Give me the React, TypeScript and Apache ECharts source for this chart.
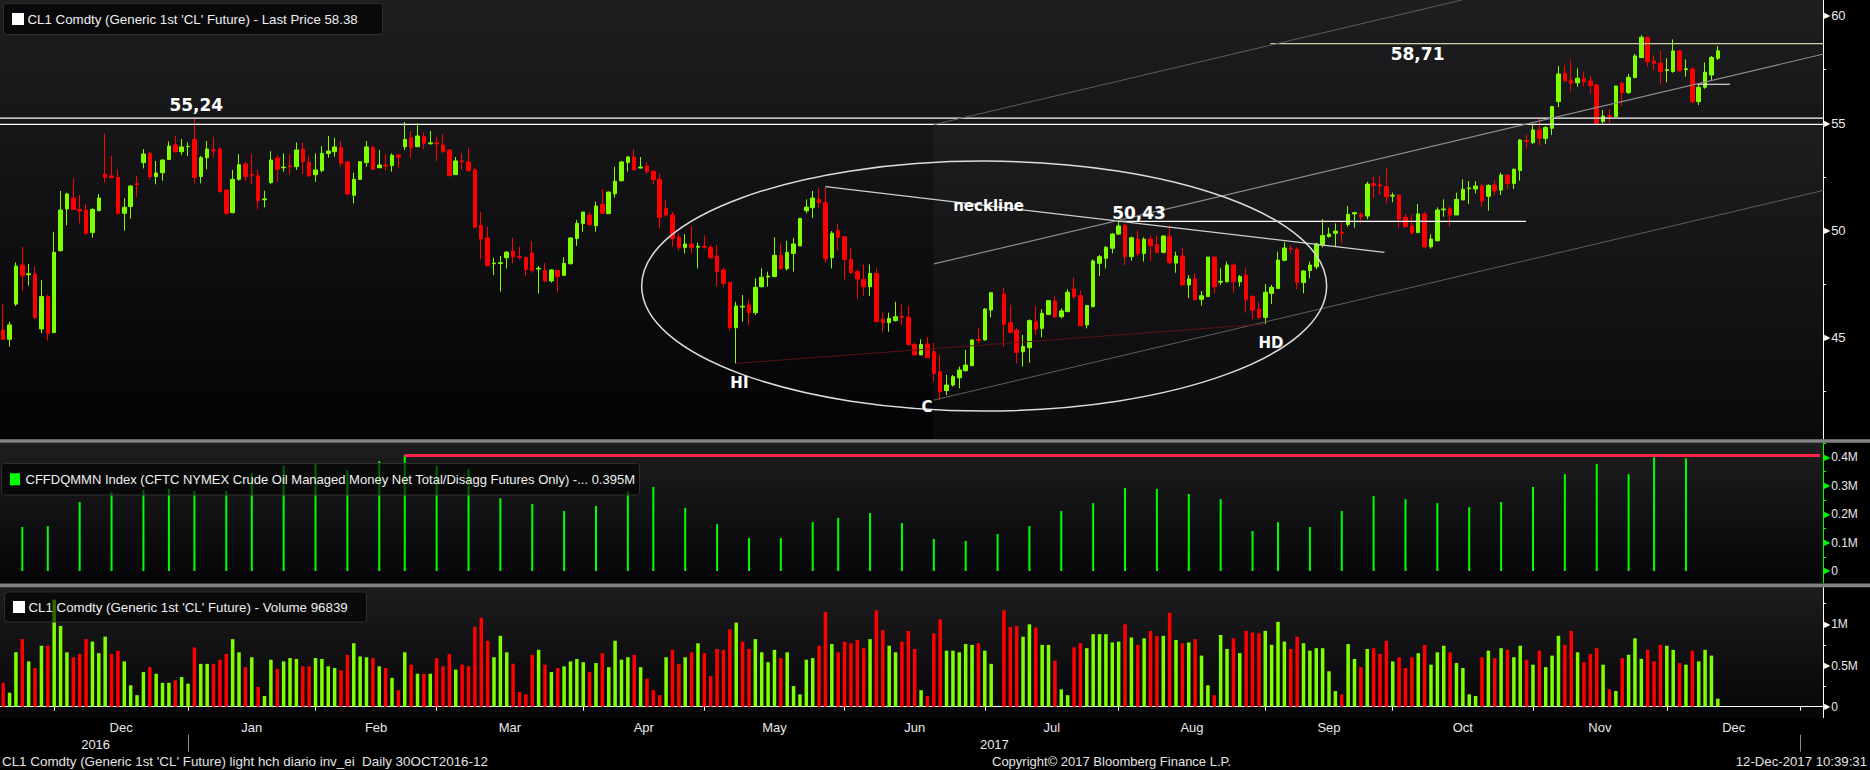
import React, { useEffect, useRef } from 'react';
import * as echarts from 'echarts';

const FONT = '"Liberation Sans", Arial, sans-serif';
const BOLD_FONT = '"DejaVu Sans", "Liberation Sans", sans-serif';
const UP = '#80ff00';
const DOWN = '#ff0000';
const CFTC_GREEN = '#00ff00';
const LABEL_COLOR = '#e8e8e8';

// calendar of chart slots (trading days; Jul 4 kept as an empty slot; future slots are weekdays)
const FIRST_DAY = '2016-11-17';
const LAST_SLOT_DAY = '2018-01-03';
const HOLIDAYS = ['2016-11-24', '2016-12-26', '2017-01-02', '2017-01-16', '2017-02-20', '2017-04-14', '2017-05-29', '2017-09-04', '2017-11-23'];
const MONTHS = ['Jan', 'Feb', 'Mar', 'Apr', 'May', 'Jun', 'Jul', 'Aug', 'Sep', 'Oct', 'Nov', 'Dec'];

// CL1 daily candles [open, close, low, high]
const OHLC = [
  [45.37,44.94,44.94,46.61],[44.94,45.61,44.60,45.76],[46.58,48.35,46.49,48.52],[48.40,47.90,47.20,49.24],[47.95,47.99,47.44,48.45],[47.98,45.95,45.88,48.32],[45.42,46.93,45.22,47.70],[46.93,45.22,44.88,47.00],[45.25,48.99,45.25,49.95],[49.07,50.96,49.02,51.85],
  [51.01,51.71,50.25,51.77],[51.52,50.99,50.96,52.44],[50.99,50.92,50.34,51.66],[50.96,49.88,49.80,51.24],[49.91,50.99,49.67,51.04],[50.93,51.52,50.93,51.71],[52.64,52.48,52.24,54.53],[52.55,52.47,52.44,53.48],[52.48,50.81,50.73,52.83],[50.81,51.09,50.00,51.51],
  [51.12,52.08,50.56,52.13],[52.19,52.15,51.58,52.55],[53.17,53.57,52.90,53.80],[53.60,52.52,52.39,53.68],[52.52,52.69,52.16,53.25],[52.70,53.29,52.33,53.32],[53.32,53.94,53.29,54.15],[53.99,53.68,53.63,54.41],[53.68,53.90,53.52,54.27],[53.91,53.93,53.48,54.11],
  [54.25,52.48,52.20,55.24],[52.52,53.40,52.20,53.48],[53.40,53.80,52.86,54.18],[53.76,53.72,53.42,54.36],[53.80,51.82,51.77,53.91],[51.89,50.81,50.73,51.93],[50.84,52.39,50.81,52.83],[52.39,53.07,52.33,53.57],[53.11,52.52,52.31,53.20],[52.62,52.58,52.17,53.57],
  [52.55,51.40,50.99,52.83],[51.44,51.48,51.09,51.86],[52.24,53.29,52.17,53.70],[53.39,52.86,52.28,53.52],[52.93,52.96,52.75,53.60],[53.02,52.98,52.61,53.57],[52.98,53.76,52.83,54.11],[53.80,53.21,52.64,54.11],[53.18,52.55,52.52,53.45],[52.61,52.83,52.28,53.60],
  [52.80,53.60,52.72,53.94],[53.60,53.71,53.40,54.41],[53.68,53.90,53.45,54.33],[53.87,53.14,52.98,54.18],[53.20,51.71,51.66,53.26],[51.65,52.39,51.27,52.70],[52.39,53.21,52.36,53.23],[53.17,53.90,52.98,54.18],[53.87,52.86,52.83,53.96],[52.93,53.06,52.93,53.76],
  [53.05,53.01,52.80,53.57],[53.03,53.51,52.75,53.60],[53.52,53.42,52.93,53.57],[53.91,54.25,53.76,55.06],[54.33,53.87,53.40,54.64],[53.91,54.41,53.91,55.00],[54.38,54.07,53.80,54.57],[54.05,54.09,54.01,54.64],[54.09,54.05,53.25,54.38],[53.99,53.68,53.63,54.50],
  [53.76,52.56,52.56,53.76],[52.61,53.25,52.61,53.43],[53.25,53.21,52.83,53.60],[53.20,52.80,52.75,53.84],[52.83,50.16,50.11,52.95],[50.25,49.61,48.66,50.87],[49.66,48.37,48.37,50.16],[48.46,48.49,47.93,48.74],[48.47,48.51,47.16,48.82],[48.74,49.00,48.24,49.05],
  [49.05,48.79,48.48,49.66],[48.79,48.76,48.66,49.24],[48.74,48.20,47.89,48.80],[48.96,48.14,48.04,49.52],[48.21,48.25,47.08,48.35],[48.15,47.66,47.62,48.49],[47.66,48.17,47.58,48.20],[48.15,47.86,47.11,48.17],[47.92,48.48,47.89,48.76],[48.46,49.66,48.43,49.69],
  [49.64,50.34,49.29,50.50],[50.33,50.87,49.95,50.87],[50.73,50.29,50.19,50.87],[50.23,51.15,49.95,51.35],[51.23,50.81,50.78,51.93],[50.79,51.80,50.79,51.82],[51.72,52.30,51.54,52.98],[52.33,53.20,52.28,53.25],[53.17,53.43,52.75,53.48],[53.43,52.83,52.80,53.80],
  [52.92,52.96,52.90,53.43],[53.01,52.75,52.64,53.20],[52.76,52.38,52.16,52.83],[52.39,50.61,50.11,52.67],[51.04,50.73,50.65,51.43],[50.73,49.63,49.25,50.87],[49.69,49.22,49.07,49.88],[49.22,49.38,48.94,49.84],[49.38,49.22,48.94,50.22],[49.23,49.27,48.24,49.44],
  [49.27,49.23,49.16,49.78],[49.21,48.74,48.66,49.33],[48.82,48.09,47.39,49.33],[48.17,47.55,47.36,48.28],[47.59,45.48,45.34,47.62],[45.48,46.49,43.82,46.69],[46.44,46.48,45.76,47.00],[46.54,46.18,45.61,46.80],[46.18,47.36,46.07,47.78],[47.39,47.83,47.36,48.24],
  [47.84,47.88,47.39,48.09],[47.86,48.85,47.83,49.69],[48.85,48.23,48.20,49.41],[48.23,48.99,48.14,49.53],[48.94,49.38,48.09,49.66],[49.29,50.57,49.29,50.57],[50.93,51.10,50.81,51.46],[51.07,51.52,50.59,51.85],[51.46,51.30,51.07,51.96],[51.30,48.70,48.51,52.03],
  [48.74,49.88,48.24,49.98],[50.00,49.69,49.07,50.31],[49.72,48.66,47.73,49.75],[48.66,48.04,47.98,49.21],[48.09,47.75,46.80,48.20],[47.73,47.39,46.96,48.43],[47.39,48.01,46.96,48.43],[48.01,45.76,45.73,48.24],[45.87,45.71,45.25,46.18],[45.71,45.91,45.29,46.18],
  [45.81,45.99,45.76,46.69],[46.01,45.97,45.61,46.58],[45.96,44.70,44.60,46.49],[44.70,44.21,44.21,44.78],[44.21,44.70,44.21,44.94],[44.72,44.08,44.08,45.06],[44.36,43.35,42.97,44.75],[43.43,42.50,42.11,44.21],[42.55,42.81,42.34,43.28],[42.81,43.20,42.73,43.28],
  [43.15,43.51,42.66,43.67],[43.48,43.74,43.43,44.44],[43.71,44.91,43.71,44.94],[44.93,44.89,44.75,45.45],[44.91,46.35,44.88,46.38],[46.30,47.11,45.96,47.14],null,[47.05,45.64,44.60,47.33],[45.71,45.26,45.22,46.54],[45.37,44.33,43.82,45.45],
  [44.36,44.60,43.67,45.14],[44.55,45.81,43.85,45.87],[45.75,45.42,45.14,46.49],[45.45,46.15,45.03,46.34],[46.10,46.74,46.07,46.77],[46.72,45.99,45.92,46.96],[45.99,46.26,45.92,46.38],[46.23,47.13,46.20,47.27],[47.28,46.93,46.82,47.81],[46.97,45.57,45.56,47.20],
  [45.61,46.51,45.45,46.54],[46.46,48.59,46.43,48.66],[48.48,48.79,47.89,48.87],[48.71,49.22,48.24,49.29],[49.18,49.84,48.94,49.88],[49.84,50.22,49.80,50.47],[50.25,48.79,48.40,50.31],[48.79,49.67,48.60,49.72],[49.61,48.94,48.82,50.00],[48.94,49.60,48.56,49.69],
  [49.61,49.30,48.59,49.77],[49.35,48.99,48.94,49.78],[48.99,49.75,48.94,49.78],[49.72,48.51,48.45,50.23],[48.49,48.82,48.04,49.02],[48.82,47.47,47.47,49.19],[47.47,47.75,46.86,47.93],[47.75,46.80,46.72,48.01],[46.80,46.97,46.51,47.19],[46.93,48.77,46.93,48.77],
  [48.77,47.39,47.08,48.77],[47.60,47.64,47.47,48.25],[47.62,48.40,47.59,48.56],[48.40,47.62,47.11,48.48],[47.62,47.86,47.39,47.93],[47.93,46.80,46.18,48.25],[46.93,46.30,45.87,47.00],[46.35,45.96,45.87,46.69],[45.96,47.13,45.65,47.52],[47.08,47.36,46.58,47.47],
  [47.31,48.63,47.30,49.02],[48.62,49.19,48.57,49.46],[49.18,49.14,48.94,49.33],[49.13,47.58,47.27,49.24],[47.58,48.12,47.08,48.17],[48.14,48.40,47.78,48.56],[48.32,49.38,48.20,49.44],[49.33,49.77,49.22,50.53],[49.72,49.84,49.69,50.14],[49.88,49.98,49.25,50.34],
  [49.92,49.88,49.41,50.40],[50.29,50.76,50.19,51.15],[50.78,50.84,50.14,50.88],[50.76,50.65,50.34,50.85],[50.68,52.17,50.53,52.28],[52.19,52.11,51.51,52.52],[52.13,52.08,51.66,52.52],[52.05,51.58,51.27,52.90],[51.61,51.65,51.32,51.77],[51.66,50.54,50.14,51.66],
  [50.62,50.19,50.14,50.78],[50.22,49.91,49.80,50.73],[49.91,50.78,49.91,51.24],[50.78,49.25,49.18,50.87],[49.25,49.61,49.16,49.83],[49.53,50.96,49.49,51.09],[50.97,51.01,50.65,51.46],[51.02,50.73,50.19,51.15],[50.73,51.46,50.73,51.77],[51.43,51.93,51.43,52.39],
  [51.95,51.99,51.24,52.31],[51.94,52.08,51.74,52.31],[52.08,51.38,51.12,52.20],[51.60,52.11,50.93,52.16],[52.13,51.86,51.66,52.36],[51.89,52.59,51.66,52.70],[52.59,52.20,51.94,52.59],[52.20,52.86,51.94,52.90],[52.80,54.22,52.33,54.27],[54.20,54.16,53.83,54.49],
  [54.10,54.69,54.04,54.92],[54.69,54.30,53.96,55.23],[54.30,54.80,54.04,54.88],[54.77,55.78,54.46,55.81],[56.01,57.30,55.75,57.67],[57.33,56.99,56.91,57.72],[57.02,56.86,56.48,57.98],[56.89,57.10,56.71,57.56],[57.07,56.94,56.74,57.41],[56.97,56.75,56.37,57.20],
  [56.79,55.00,54.89,56.83],[55.08,55.34,55.00,55.62],[55.36,55.32,55.00,55.65],[55.31,56.74,55.28,56.74],[56.86,56.43,55.81,56.94],[56.43,57.14,56.37,57.30],[57.14,58.14,57.10,58.23],[58.07,59.01,58.03,59.11],[59.01,57.87,57.64,59.04],[57.90,57.80,57.48,58.18],
  [57.80,57.41,56.82,58.39],[57.46,57.50,56.91,58.03],[57.41,58.37,57.36,58.91],[58.37,57.45,57.41,58.42],[57.50,57.54,57.17,57.98],[57.53,56.01,55.93,57.61],[56.01,56.68,55.85,56.83],[56.68,57.38,56.61,57.84],[57.25,58.07,56.97,58.14],[58.03,58.38,57.95,58.60],
];

// CL1 daily volume, millions of contracts
const VOLUME_M = [
  0.29,0.17,0.66,0.82,0.55,0.47,0.74,0.74,1.30,0.98,
  0.66,0.60,0.64,0.82,0.79,0.65,0.85,0.64,0.68,0.55,
  0.26,0.14,0.42,0.48,0.40,0.29,0.29,0.32,0.36,0.28,
  0.72,0.52,0.52,0.52,0.57,0.64,0.82,0.66,0.48,0.60,
  0.24,0.13,0.57,0.46,0.55,0.59,0.58,0.49,0.49,0.59,
  0.58,0.49,0.47,0.44,0.63,0.77,0.61,0.60,0.59,0.49,
  0.47,0.35,0.20,0.66,0.51,0.40,0.40,0.40,0.59,0.49,
  0.64,0.45,0.51,0.49,0.97,1.08,0.80,0.60,0.86,0.66,
  0.52,0.18,0.15,0.63,0.69,0.51,0.42,0.47,0.49,0.55,
  0.58,0.54,0.42,0.53,0.65,0.48,0.80,0.57,0.60,0.63,
  0.48,0.34,0.20,0.14,0.60,0.69,0.52,0.60,0.66,0.77,
  0.65,0.37,0.70,0.69,0.94,1.02,0.79,0.70,0.82,0.66,
  0.54,0.69,0.59,0.66,0.25,0.15,0.57,0.59,0.74,1.15,
  0.76,0.66,0.79,0.77,0.81,0.71,0.82,1.17,0.93,0.74,
  0.66,0.79,0.92,0.70,0.20,0.13,0.89,1.06,0.68,0.68,
  0.66,0.76,0.75,0.77,0.68,0.52,null,1.17,0.97,0.98,
  0.85,1.00,0.96,0.75,0.75,0.56,0.21,0.14,0.72,0.77,
  0.71,0.88,0.88,0.88,0.78,0.79,1.00,0.84,0.75,0.83,
  0.92,0.86,0.86,1.14,0.81,0.77,0.78,0.82,0.62,0.26,
  0.14,0.87,0.70,0.83,0.65,0.92,0.90,0.89,0.92,0.75,
  1.03,0.79,0.70,0.85,0.77,0.68,0.71,0.71,0.43,0.19,
  0.15,0.76,0.58,0.48,0.70,0.71,0.64,0.80,0.55,0.60,
  0.47,0.60,0.65,0.75,0.51,0.66,0.74,0.66,0.53,0.47,
  0.15,0.13,0.60,0.68,0.59,0.71,0.69,0.60,0.74,0.57,
  0.51,0.68,0.48,0.62,0.86,0.75,0.92,0.66,0.54,0.64,
  0.71,0.51,0.21,0.19,0.59,0.63,0.83,0.58,0.69,0.55,
  0.75,0.74,0.69,0.53,0.51,0.68,0.55,0.69,0.62,0.097,
];

// CFTC managed money net (weekly, Tuesdays from 2016-11-22), millions
const CFTC_FIRST_REPORT = '2016-11-22';
const CFTC_M = [
  0.155,0.158,0.243,0.277,0.285,0.289,0.282,0.282,0.344,0.370,
  0.377,0.355,0.387,0.408,0.370,0.358,0.256,0.236,0.211,0.229,
  0.279,0.296,0.222,0.165,0.116,0.116,0.172,0.187,0.204,0.169,
  0.113,0.106,0.130,0.158,0.211,0.239,0.292,0.289,0.271,0.253,
  0.141,0.172,0.155,0.211,0.264,0.253,0.239,0.225,0.243,0.296,
  0.341,0.377,0.341,0.400,0.397,
];
const CFTC_RECORD = 0.407;
const CFTC_RECORD_FROM = 63;

// axes
const PRICE_MIN = 40.295, PRICE_MAX = 60.745;
const PRICE_LABELS = [45, 50, 55, 60];
const PRICE_TICKS = [42.5, 45, 47.5, 50, 52.5, 55, 57.5, 60];
const CFTC_MIN = -0.0423, CFTC_MAX = 0.4507;
const CFTC_LABELS = [0, 0.1, 0.2, 0.3, 0.4];
const CFTC_TICKS = [0, 0.05, 0.1, 0.15, 0.2, 0.25, 0.3, 0.35, 0.4, 0.45];
const VOL_MIN = -0.1334, VOL_MAX = 1.4466;
const VOL_LABELS = [0, 0.5, 1];
const VOL_TICKS = [0, 0.25, 0.5, 0.75, 1, 1.25];

// annotations in (slot index, price)
const LEVELS = [
  { price: 55.24, from: -0.5, to: 285.5, color: '#ffffff' },
  { price: 54.95, from: -0.5, to: 285.5, color: '#ffffff' },
  { price: 50.43, from: 175, to: 238.9, color: '#ffffff' },
  { price: 58.71, from: 198.8, to: 285.5, color: '#cfcf9f' },
  { price: 56.82, from: 265.8, to: 270.9, color: '#ffffff' },
];
const TREND_LINES = [
  { a: [129.0, 52.05], b: [216.7, 48.99], color: '#d0d0d0', width: 1.3 },
  { a: [146.0, 54.94], b: [228.8, 60.74], color: '#5e5e5e', width: 1 },
  { a: [146.0, 48.45], b: [285.6, 58.23], color: '#8c8c8c', width: 1.2 },
  { a: [146.0, 42.11], b: [285.6, 51.88], color: '#5e5e5e', width: 1 },
  { a: [115.1, 43.82], b: [197.9, 45.65], color: '#5a1414', width: 1 },
];
const NOTES = [
  { text: '55,24', at: [30.3, 55.85], size: 17 },
  { text: '58,71', at: [221.9, 58.24], size: 17 },
  { text: '50,43', at: [178.2, 50.81], size: 17 },
  { text: 'neckline', at: [154.6, 51.16], size: 15 },
  { text: 'HI', at: [115.5, 42.92], size: 15 },
  { text: 'C', at: [144.95, 41.8], size: 15 },
  { text: 'HD', at: [198.9, 44.75], size: 15 },
];
const ELLIPSE = { center: [153.9, 47.42], rx: 53.73, ry: 5.82 };
const CHANNEL_SHADE_FROM = 145.9;

function tradingDays(from: string, to: string): string[] {
  const out: string[] = [];
  const d = new Date(from + 'T00:00:00Z');
  const end = new Date(to + 'T00:00:00Z');
  while (d <= end) {
    const wd = d.getUTCDay();
    const s = d.toISOString().slice(0, 10);
    if (wd !== 0 && wd !== 6 && HOLIDAYS.indexOf(s) < 0) out.push(s);
    d.setUTCDate(d.getUTCDate() + 1);
  }
  return out;
}

const dates = tradingDays(FIRST_DAY, LAST_SLOT_DAY);
const N = dates.length;
const ym = (s: string) => s.slice(0, 7);
const monthEnds: number[] = [];
for (let i = 0; i < N - 1; i++) if (ym(dates[i]) !== ym(dates[i + 1])) monthEnds.push(i);
const monthEndSet = new Set(monthEnds);
const monthLabels = new Map<number, { text: string; half: boolean }>();
for (let k = 1; k < monthEnds.length; k++) {
  const a = monthEnds[k - 1], b = monthEnds[k];
  const mid = (a + b) / 2;
  monthLabels.set(Math.floor(mid), { text: MONTHS[+dates[b].slice(5, 7) - 1], half: mid % 1 !== 0 });
}
const yearEnds = monthEnds.filter((i) => dates[i].slice(5, 7) === '12');
const yearEndSet = new Set(yearEnds);
const yearLabels = new Map<number, { text: string; half: boolean }>();
{
  let prev = 0;
  yearEnds.forEach((e) => {
    const mid = (prev + e) / 2;
    yearLabels.set(Math.floor(mid), { text: dates[e].slice(0, 4), half: mid % 1 !== 0 });
    prev = e;
  });
}

function halfLabel(map: Map<number, { text: string; half: boolean }>) {
  return (_v: string, i: number) => {
    const m = map.get(i);
    if (!m) return '';
    return m.half ? `{h|${m.text}}` : `{n|${m.text}}`;
  };
}
const labelRich = {
  n: { fontFamily: FONT, fontSize: 13, color: LABEL_COLOR },
  h: { fontFamily: FONT, fontSize: 13, color: LABEL_COLOR, padding: [0, 0, 0, 6.38] },
};

function rightAxis(grid: number, min: number, max: number, labels: number[], ticks: number[], fmt: (v: number) => string, lineColor: string, fontSize: number) {
  return {
    type: 'value', gridIndex: grid, position: 'right', min, max,
    axisLine: { show: true, lineStyle: { color: lineColor, width: 1 } },
    axisTick: { show: true, customValues: ticks, length: 3, lineStyle: { color: lineColor } },
    axisLabel: {
      show: true, customValues: labels, margin: 1,
      formatter: (v: number) => `{t|▶}{v|${fmt(v)}}`,
      rich: {
        t: { fontFamily: '"DejaVu Sans"', fontSize: 8, color: lineColor, padding: [0, 1, 0, 0] },
        v: { fontFamily: FONT, fontSize, color: LABEL_COLOR },
      },
    },
    splitLine: { show: false },
  };
}

function buildOption() {
  const candleData = dates.map((_, i) => (OHLC[i] ? OHLC[i] : '-'));
  let prevClose: number | null = null;
  const volData = dates.map((_, i) => {
    const v = VOLUME_M[i];
    const c = OHLC[i];
    if (v == null || !c) return '-';
    const up = prevClose == null ? c[1] >= c[0] : c[1] >= prevClose;
    prevClose = c[1];
    return { value: v, itemStyle: { color: up ? UP : DOWN } };
  });
  const cftcData: any[] = dates.map(() => '-');
  CFTC_M.forEach((v, k) => {
    const d = new Date(CFTC_FIRST_REPORT + 'T00:00:00Z');
    d.setUTCDate(d.getUTCDate() + 7 * k);
    const idx = dates.indexOf(d.toISOString().slice(0, 10));
    if (idx >= 0) cftcData[idx] = v;
  });

  const hiddenX = (g: number) => ({ type: 'category', gridIndex: g, data: dates, show: false });

  return {
    animation: false,
    backgroundColor: '#000000',
    grid: [
      { left: -3.5, right: 47, top: 0, height: 439 },
      { left: -3.5, right: 47, top: 443, height: 140 },
      { left: -3.5, right: 47, top: 587.5, height: 130.2 },
    ],
    xAxis: [
      hiddenX(0),
      hiddenX(1),
      {
        type: 'category', gridIndex: 2, data: dates,
        axisLine: { show: true, lineStyle: { color: '#ffffff', width: 1 } },
        axisTick: { show: true, alignWithLabel: true, length: 4, interval: (i: number) => monthEndSet.has(i), lineStyle: { color: '#ffffff' } },
        axisLabel: { show: true, interval: (i: number) => monthLabels.has(i), formatter: halfLabel(monthLabels), rich: labelRich, margin: 3 },
        splitLine: { show: false },
      },
      {
        type: 'category', gridIndex: 2, data: dates, position: 'bottom', offset: 17,
        axisLine: { show: false },
        axisTick: { show: true, alignWithLabel: true, length: 17, interval: (i: number) => yearEndSet.has(i), lineStyle: { color: '#8c8c8c' } },
        axisLabel: { show: true, interval: (i: number) => yearLabels.has(i), formatter: halfLabel(yearLabels), rich: labelRich, margin: 3 },
        splitLine: { show: false },
      },
    ],
    yAxis: [
      rightAxis(0, PRICE_MIN, PRICE_MAX, PRICE_LABELS, PRICE_TICKS, (v) => String(v), '#ffffff', 13),
      rightAxis(1, CFTC_MIN, CFTC_MAX, CFTC_LABELS, CFTC_TICKS, (v) => (v === 0 ? '0' : `${v.toFixed(1)}M`), CFTC_GREEN, 12),
      rightAxis(2, VOL_MIN, VOL_MAX, VOL_LABELS, VOL_TICKS, (v) => (v === 0 ? '0' : v === 1 ? '1M' : `${v}M`), '#ffffff', 12),
    ],
    series: [
      {
        type: 'candlestick', xAxisIndex: 0, yAxisIndex: 0, data: candleData, barWidth: 4,
        itemStyle: { color: UP, color0: DOWN, borderColor: UP, borderColor0: DOWN, borderWidth: 1 },
        z: 3,
      },
      {
        type: 'bar', xAxisIndex: 1, yAxisIndex: 1, data: cftcData, barWidth: 2,
        itemStyle: { color: CFTC_GREEN },
        markLine: {
          silent: true, symbol: ['none', 'none'], label: { show: false },
          lineStyle: { color: '#ff2448', width: 3, type: 'solid' },
          emphasis: { disabled: true },
          data: [[{ coord: [dates[CFTC_RECORD_FROM], CFTC_RECORD] }, { coord: [dates[N - 1], CFTC_RECORD] }]],
        },
      },
      {
        type: 'bar', xAxisIndex: 2, yAxisIndex: 2, data: volData, barWidth: 3.5,
      },
    ],
  };
}

function grad(top: string, bottom: string) {
  return new echarts.graphic.LinearGradient(0, 0, 0, 1, [
    { offset: 0, color: top },
    { offset: 1, color: bottom },
  ]);
}

function legend(x: number, y: number, w: number, h: number, fill: string, swatch: string, sw: number, text: string, fs: number) {
  return [
    { type: 'rect', z: 20, silent: true, shape: { x, y, width: w, height: h, r: 3 }, style: { fill, stroke: '#2e2e30', lineWidth: 1 } },
    { type: 'rect', z: 21, silent: true, shape: { x: x + 8.5, y: y + h / 2 - 6, width: sw, height: 12 }, style: { fill: swatch } },
    { type: 'text', z: 21, silent: true, style: { x: x + 24, y: y + h / 2 + 0.5, text, fill: '#f0f0f0', font: `${fs}px ${FONT}`, verticalAlign: 'middle' } },
  ];
}

function buildGraphics(chart: any) {
  const xa = chart.convertToPixel({ xAxisIndex: 0 }, 0) as number;
  const xb = chart.convertToPixel({ xAxisIndex: 0 }, 100) as number;
  const X = (i: number) => xa + ((xb - xa) * i) / 100;
  const Y = (p: number) => chart.convertToPixel({ yAxisIndex: 0 }, p) as number;
  const els: any[] = [];

  // panel backgrounds
  els.push({ type: 'rect', z: -10, silent: true, shape: { x: 0, y: 0, width: 1823, height: 439 }, style: { fill: grad('#1e1e21', '#030306') } });
  els.push({ type: 'rect', z: -10, silent: true, shape: { x: 0, y: 443, width: 1823, height: 140 }, style: { fill: grad('#1e1e21', '#050507') } });
  els.push({ type: 'rect', z: -10, silent: true, shape: { x: 0, y: 587, width: 1823, height: 131 }, style: { fill: grad('#1c1c1f', '#060608') } });
  // shaded channel region
  els.push({ type: 'rect', z: -9, silent: true, shape: { x: X(CHANNEL_SHADE_FROM), y: Y(54.95), width: X(285.5) - X(CHANNEL_SHADE_FROM), height: Y(PRICE_MIN) - Y(54.95) }, style: { fill: 'rgba(255,255,255,0.03)' } });

  // levels
  LEVELS.forEach((l) => {
    els.push({ type: 'line', z: 5, silent: true, shape: { x1: X(l.from), y1: Y(l.price), x2: X(l.to), y2: Y(l.price) }, style: { stroke: l.color, lineWidth: 1.2 } });
  });
  TREND_LINES.forEach((t) => {
    els.push({ type: 'line', z: 5, silent: true, shape: { x1: X(t.a[0]), y1: Y(t.a[1]), x2: X(t.b[0]), y2: Y(t.b[1]) }, style: { stroke: t.color, lineWidth: t.width } });
  });
  const cx = X(ELLIPSE.center[0]), cy = Y(ELLIPSE.center[1]);
  els.push({
    type: 'ellipse', z: 5, silent: true,
    shape: { cx, cy, rx: X(ELLIPSE.center[0] + ELLIPSE.rx) - cx, ry: cy - Y(ELLIPSE.center[1] + ELLIPSE.ry) },
    style: { fill: 'none', stroke: '#dcdcdc', lineWidth: 1.5 },
  });
  NOTES.forEach((n) => {
    els.push({ type: 'text', z: 6, silent: true, style: { x: X(n.at[0]), y: Y(n.at[1]), text: n.text, fill: '#ffffff', font: `bold ${n.size}px ${BOLD_FONT}`, align: 'center', verticalAlign: 'middle' } });
  });

  // legends
  els.push(...legend(3.5, 3.5, 379, 31, 'rgba(8,8,10,0.92)', '#ffffff', 12, "CL1 Comdty (Generic 1st 'CL' Future) - Last Price 58.38", 13.3));
  els.push(...legend(1.5, 463.5, 638, 31.5, 'rgba(0,0,0,0.6)', CFTC_GREEN, 10, 'CFFDQMMN Index (CFTC NYMEX Crude Oil Managed Money Net Total/Disagg Futures Only) -... 0.395M', 13));
  els.push(...legend(4.5, 592, 362, 30, 'rgba(0,0,0,0.6)', '#ffffff', 12, "CL1 Comdty (Generic 1st 'CL' Future) - Volume 96839", 13.3));

  // separators
  els.push({ type: 'rect', z: 30, silent: true, shape: { x: 0, y: 439.3, width: 1870, height: 3.5 }, style: { fill: '#838383' } });
  els.push({ type: 'rect', z: 30, silent: true, shape: { x: 0, y: 583.4, width: 1870, height: 3.8 }, style: { fill: '#838383' } });

  // footer
  const foot = (x: number, text: string, align: string, fs: number) => ({ type: 'text', z: 30, silent: true, style: { x, y: 761.5, text, fill: '#e4e4e4', font: `${fs}px ${FONT}`, align, verticalAlign: 'middle' } });
  els.push(foot(2, "CL1 Comdty (Generic 1st 'CL' Future) light hch diario inv_ei  Daily 30OCT2016-12", 'left', 13.4));
  els.push(foot(992, 'Copyright© 2017 Bloomberg Finance L.P.', 'left', 13));
  els.push(foot(1867, '12-Dec-2017 10:39:31', 'right', 13.2));
  return els;
}

export default function App() {
  const ref = useRef<HTMLDivElement>(null);
  useEffect(() => {
    document.body.style.margin = '0';
    document.body.style.background = '#000';
    const chart = echarts.init(ref.current as HTMLDivElement, null, { renderer: 'svg' });
    chart.setOption(buildOption() as any);
    chart.setOption({ graphic: { elements: buildGraphics(chart) } } as any);
    return () => chart.dispose();
  }, []);
  return <div ref={ref} style={{ position: 'fixed', left: 0, top: 0, width: 1870, height: 770, background: '#000' }} />;
}
